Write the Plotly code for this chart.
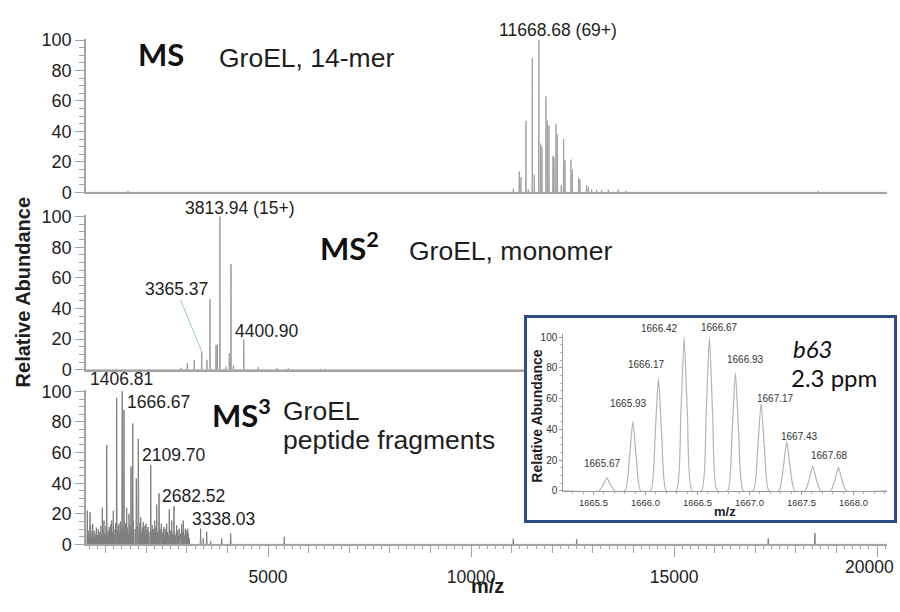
import plotly.graph_objects as go

# ---------------- data ----------------
# MS (GroEL 14-mer)
ms1_mz = [1550, 11041, 11188, 11229, 11352, 11410, 11508, 11558, 11668.68, 11714, 11747,
          11845, 11878, 11919, 12017, 12042, 12091, 12124, 12222, 12280, 12313, 12460,
          12493, 12649, 12682, 12846, 12887, 12969, 13092, 13215, 13380, 13626, 13815, 18553]
ms1_int = [1, 2.5, 13.7, 10, 47, 2, 88, 11.6, 100, 32, 30,
           63, 47, 44, 24, 23, 45, 38, 4.6, 35, 21, 21.5,
           15, 9.5, 8.5, 4.6, 3.6, 2, 1.7, 1.5, 1.7, 1.9, 1, 1]

# MS2 (GroEL monomer)
ms2_mz = [1254, 2855, 3010, 3182, 3365.37, 3495, 3569, 3717, 3749, 3813.94, 3956, 4044,
          4087, 4143, 4400.90, 4759, 5212, 5498, 6290, 6390]
ms2_int = [0.6, 1.3, 4.2, 6.3, 11.8, 6.5, 46, 16, 16.5, 100, 2, 10.8,
           69, 2.7, 19.7, 1.7, 1, 1, 0.6, 0.6]

# MS3 (peptide fragments) - main peaks
ms3_mz = [547, 614, 680, 737, 818, 917, 958, 1025, 1089, 1148, 1188, 1271, 1328, 1406.81,
          1451, 1517, 1574, 1625, 1666.67, 1754, 1803, 1862, 1926, 1993, 2042, 2109.70,
          2148, 2207, 2256, 2313, 2370, 2436, 2502, 2567, 2626, 2682.52, 2749, 2813, 2872,
          2912, 2961, 3020, 3338.03, 3404, 3488, 3586, 3857, 4079, 5399, 11040, 12601,
          17320, 18470]
ms3_int = [22, 21, 13.5, 7, 10, 24, 15.6, 65, 11.4, 15.6, 22, 95.8, 13.5, 100,
           88, 24, 20, 51, 79, 43, 69, 17.7, 14.6, 13.5, 11.4, 52,
           12.4, 15.6, 26, 33.5, 13.5, 11.4, 13.5, 23, 15.6, 25, 12.4, 10.3, 13.5,
           15.6, 10.3, 10.3, 10.3, 4, 8.2, 2, 4, 7.2, 5, 3.8, 3.4,
           3.8, 7.4]
# MS3 - small low-level peaks (the "grass")
ms3_small_mz = [560, 585, 600, 630, 650, 665, 700, 715, 750, 770, 790, 805, 840, 860, 880,
                900, 935, 975, 995, 1010, 1040, 1060, 1075, 1110, 1125, 1165, 1205, 1225,
                1245, 1290, 1310, 1345, 1365, 1385, 1425, 1470, 1490, 1535, 1555, 1600,
                1640, 1680, 1725, 1780, 1830, 1845, 1890, 1905, 1945, 1965, 2010, 2025,
                2065, 2120, 2170, 2190, 2230, 2280, 2340, 2395, 2415, 2460, 2480, 2525,
                2545, 2600, 2650, 2700, 2725, 2775, 2790, 2840, 2895, 2935, 2985, 3000,
                3040, 3060]
ms3_small_int = [6, 9, 4, 12, 5, 8, 4, 9, 5, 11, 4, 6, 8, 5, 12,
                 6, 9, 7, 5, 12, 6, 9, 4, 7, 13, 8, 10, 6,
                 14, 9, 12, 8, 15, 10, 12, 9, 14, 11, 7, 13,
                 9, 15, 10, 12, 9, 14, 8, 11, 9, 12, 7, 10,
                 8, 9, 10, 7, 11, 8, 10, 7, 9, 6, 10, 8,
                 6, 9, 7, 8, 6, 9, 5, 7, 8, 6, 9, 5,
                 7, 4]

# Inset: b63 isotope cluster
inset_mz = [1665.629, 1665.879, 1666.125, 1666.372, 1666.615, 1666.865, 1667.112, 1667.359,
            1667.609, 1667.856]
inset_int = [8.4, 45, 73, 100, 100, 77, 57, 32, 16, 15]
inset_labels = ["1665.67", "1665.93", "1666.17", "1666.42", "1666.67", "1666.93", "1667.17",
                "1667.43", "1667.68", None]

# peak labels (m/z, intensity, text)
ms1_labels = [(11668.68, 100, "11668.68 (69+)")]
ms2_labels = [(3813.94, 100, "3813.94 (15+)"), (4400.90, 19.7, "4400.90")]
ms2_arrow_label = (3365.37, 11.8, "3365.37")
ms3_labels = [(1406.81, 100, "1406.81"), (1666.67, 79, "1666.67"), (2109.70, 52, "2109.70"),
              (2682.52, 25, "2682.52"), (3338.03, 10.3, "3338.03")]

x_ticks_major = [5000, 10000, 15000, 20000]
y_ticks = [0, 20, 40, 60, 80, 100]
inset_xticks = [1665.5, 1666.0, 1666.5, 1667.0, 1667.5, 1668.0]

# ---------------- styling / layout params ----------------
X_RANGE = [515, 20245]
INSET_RANGE = [1665.21, 1668.32]
W, H = 900, 612
LINE_GRAY = "#a3a3a3"
TXT = "#1e1e1e"
SANS = "Liberation Sans, Arial, sans-serif"
CAL = "Lato, Calibri, sans-serif"


def profile(mz, inten, half_w, x0, x1, spline=False):
    pts = sorted(zip(mz, inten))
    xs, ys = [x0], [0]
    for m, h in pts:
        if spline:
            xs += [m - half_w, m - half_w * 0.42, m, m + half_w * 0.42, m + half_w]
            ys += [0, h * 0.5, h, h * 0.5, 0]
        else:
            xs += [m - half_w, m, m + half_w]
            ys += [0, h, 0]
    xs.append(x1)
    ys.append(0)
    return xs, ys


def px_x(p):
    return p / W


def px_y(p):
    return 1 - p / H


fig = go.Figure()

x1s, y1s = profile(ms1_mz, ms1_int, 8, X_RANGE[0], X_RANGE[1])
fig.add_trace(go.Scatter(x=x1s, y=y1s, mode="lines", line=dict(color="#9c9c9c", width=0.9),
                         xaxis="x", yaxis="y", showlegend=False, hoverinfo="skip"))
x2s, y2s = profile(ms2_mz, ms2_int, 8, X_RANGE[0], X_RANGE[1])
fig.add_trace(go.Scatter(x=x2s, y=y2s, mode="lines", line=dict(color="#949494", width=0.9),
                         xaxis="x2", yaxis="y2", showlegend=False, hoverinfo="skip"))
x3s, y3s = profile(ms3_mz + ms3_small_mz, ms3_int + ms3_small_int, 10, X_RANGE[0], X_RANGE[1])
fig.add_trace(go.Scatter(x=x3s, y=y3s, mode="lines", line=dict(color="#7e7e7e", width=1),
                         xaxis="x3", yaxis="y3", showlegend=False, hoverinfo="skip"))
# overlay axis holders (long 5000 ticks; labels)
fig.add_trace(go.Scatter(x=[None], y=[None], xaxis="x6", yaxis="y3", showlegend=False,
                         hoverinfo="skip"))
fig.add_trace(go.Scatter(x=[None], y=[None], xaxis="x7", yaxis="y3", showlegend=False,
                         hoverinfo="skip"))
# inset box holder
fig.add_trace(go.Scatter(x=[None], y=[None], xaxis="x4", yaxis="y4", showlegend=False,
                         hoverinfo="skip"))
# inset spectrum
xis, yis = profile(inset_mz, inset_int, 0.075, INSET_RANGE[0], INSET_RANGE[1], spline=True)
fig.add_trace(go.Scatter(x=xis, y=yis, mode="lines",
                         line=dict(color="#b4b4b4", width=1.2, shape="spline", smoothing=0.6),
                         xaxis="x5", yaxis="y5", showlegend=False, hoverinfo="skip"))

xdom = [px_x(86), px_x(887)]
common_y = dict(range=[0, 101], tickmode="array", tickvals=y_ticks, ticks="outside", ticklen=9,
                tickcolor=LINE_GRAY, tickwidth=1, showline=True, linecolor=LINE_GRAY,
                linewidth=1.5, showgrid=False, zeroline=False,
                tickfont=dict(family=SANS, size=18, color=TXT),
                minor=dict(dtick=5, tick0=0, ticks="outside", ticklen=5, tickcolor=LINE_GRAY))
plain_x = dict(range=X_RANGE, domain=xdom, showline=True, linecolor=LINE_GRAY, linewidth=1.5,
               showticklabels=False, ticks="", showgrid=False, zeroline=False)

fig.update_layout(
    width=W, height=H, margin=dict(l=0, r=0, t=0, b=0),
    paper_bgcolor="white", plot_bgcolor="rgba(0,0,0,0)",
    xaxis=dict(plain_x, anchor="y"),
    yaxis=dict(common_y, domain=[px_y(190), px_y(190 - 101 * 1.57)], anchor="x"),
    xaxis2=dict(plain_x, anchor="y2"),
    yaxis2=dict(common_y, domain=[px_y(372.7), px_y(372.7 - 101 * 1.577)], anchor="x2"),
    xaxis3=dict(range=X_RANGE, domain=xdom, anchor="y3", showline=True, linecolor=LINE_GRAY,
                linewidth=1.5, showgrid=False, zeroline=False, showticklabels=False,
                ticks="outside", tick0=0, dtick=1000, ticklen=7, tickcolor=LINE_GRAY,
                minor=dict(tick0=0, dtick=200, ticks="outside", ticklen=3, tickcolor=LINE_GRAY)),
    yaxis3=dict(common_y, domain=[px_y(552.7), px_y(552.7 - 101 * 1.577)], anchor="x3"),
    xaxis6=dict(range=X_RANGE, overlaying="x3", anchor="y3", side="bottom", showline=False,
                showgrid=False, zeroline=False, tickmode="array", tickvals=x_ticks_major,
                showticklabels=False, ticks="outside", ticklen=12, tickcolor=LINE_GRAY),
    xaxis7=dict(range=X_RANGE, overlaying="x3", anchor="y3", side="bottom", showline=False,
                showgrid=False, zeroline=False, tickmode="array", tickvals=x_ticks_major[:-1],
                ticktext=[str(v) for v in x_ticks_major[:-1]],
                ticks="outside", ticklen=17, tickcolor="rgba(0,0,0,0)",
                tickfont=dict(family=SANS, size=17.5, color=TXT)),
    xaxis4=dict(range=[0, 1], domain=[px_x(527), px_x(894)], anchor="y4", showline=True,
                mirror=True, linecolor="#2d4d82", linewidth=3, showticklabels=False,
                ticks="", showgrid=False, zeroline=False),
    yaxis4=dict(range=[0, 1], domain=[px_y(527), px_y(319)], anchor="x4", showline=True,
                mirror=True, linecolor="#2d4d82", linewidth=3, showticklabels=False,
                ticks="", showgrid=False, zeroline=False),
    xaxis5=dict(range=INSET_RANGE, domain=[px_x(563.3), px_x(886.7)], anchor="y5",
                showline=True, linecolor="#9a9a9a", linewidth=1, showgrid=False,
                zeroline=False, tickmode="array", tickvals=inset_xticks,
                ticktext=[f"{v:.1f}" for v in inset_xticks], ticks="outside", ticklen=3,
                tickcolor="#9a9a9a", tickfont=dict(family=SANS, size=9.5, color="#333"),
                minor=dict(dtick=0.1, tick0=1665.5, ticks="outside", ticklen=2,
                           tickcolor="#b0b0b0")),
    yaxis5=dict(range=[0, 102], domain=[px_y(497.3), px_y(497.3 - 102 * 1.58)], anchor="x5",
                showline=True, linecolor="#9a9a9a", linewidth=1, showgrid=False,
                zeroline=False, tickmode="array", tickvals=y_ticks, ticks="outside",
                ticklen=3, tickcolor="#9a9a9a",
                tickfont=dict(family=SANS, size=10, color="#333"),
                minor=dict(dtick=5, tick0=0, ticks="outside", ticklen=2, tickcolor="#b0b0b0")),
    shapes=[dict(type="rect", xref="x4", yref="y4", x0=0, x1=1, y0=0, y1=1,
                 fillcolor="white", line=dict(width=0), layer="below")],
)

ann = []
lab_font = dict(family=SANS, size=17.5, color=TXT)
# last x tick label drawn as an annotation so it stays inside the page
ann.append(dict(x=x_ticks_major[-1], y=px_y(576), xref="x3", yref="paper",
                text=str(x_ticks_major[-1]), showarrow=False, xanchor="right", xshift=19,
                yanchor="middle", font=dict(family=SANS, size=17.5, color=TXT)))
# label offsets in pixels (style)
ms1_off = [(19.4, 10.5)]
ms2_off = [(19.8, 8.3), (23, 8.6)]
ms3_off = [(-0.5, 12), (25.5, 21.4), (23.5, 9.9), (19.5, 10), (23.2, 9.9)]
for (m, h, t), (dx, dy) in zip(ms1_labels, ms1_off):
    ann.append(dict(x=m, y=h, xref="x", yref="y", text=t, showarrow=False, xshift=dx,
                    yshift=dy, font=lab_font))
for (m, h, t), (dx, dy) in zip(ms2_labels, ms2_off):
    ann.append(dict(x=m, y=h, xref="x2", yref="y2", text=t, showarrow=False, xshift=dx,
                    yshift=dy, font=lab_font))
m, h, t = ms2_arrow_label
ann.append(dict(x=m, y=h, xref="x2", yref="y2", text=t, showarrow=True, arrowhead=0,
                arrowwidth=1, arrowcolor="#9ed29e", ax=-25.7, ay=-63, standoff=0,
                font=lab_font))
for (m, h, t), (dx, dy) in zip(ms3_labels, ms3_off):
    ann.append(dict(x=m, y=h, xref="x3", yref="y3", text=t, showarrow=False, xshift=dx,
                    yshift=dy, font=lab_font))

inset_off = [(-4.7, 14.7), (-4.7, 18.5), (-12.1, 14.5), (-24.5, 9), (9.9, 9.8), (10, 13.1),
             (14.8, 5.2), (12.3, 4.7), (16.5, 10.7)]
for m, h, t, (dx, dy) in zip(inset_mz, inset_int, inset_labels, inset_off):
    if t:
        ann.append(dict(x=m, y=h, xref="x5", yref="y5", text=t, showarrow=False, xshift=dx,
                        yshift=dy, font=dict(family=SANS, size=10, color="#333")))


def txt(x, y, text, size, family=SANS, weight="normal", style="normal", anchor="left",
        angle=0, color=TXT):
    ann.append(dict(x=px_x(x), y=px_y(y), xref="paper", yref="paper", text=text,
                    showarrow=False, xanchor=anchor, yanchor="middle", textangle=angle,
                    font=dict(family=family, size=size, weight=weight, style=style,
                              color=color)))


txt(23, 293, "Relative Abundance", 20, weight="bold", anchor="center", angle=-90)
txt(487, 596, "m/z", 20, weight="bold", anchor="center")
txt(136, 47, "MS", 31, family=CAL, weight="bold", color="#111")
txt(217, 51, "GroEL, 14-mer", 26.5)
txt(318, 246, "MS<sup>2</sup>", 31, family=CAL, weight="bold", color="#111")
txt(407, 250, "GroEL, monomer", 26.5)
txt(210, 418, "MS<sup>3</sup>", 31, family=CAL, weight="bold", color="#111")
txt(281, 415, "GroEL", 26.5)
txt(281, 445, "peptide fragments", 26.5)
txt(537, 420, "Relative Abundance", 14, weight="bold", anchor="center", angle=-90)
txt(725, 519, "m/z", 13, weight="bold", anchor="center")
txt(791, 351, "b63", 24, family=CAL, style="italic", color="#111")
txt(789, 381, "2.3 ppm", 24, family=CAL, color="#111")

fig.update_layout(annotations=ann)
fig.write_html("out.html")
